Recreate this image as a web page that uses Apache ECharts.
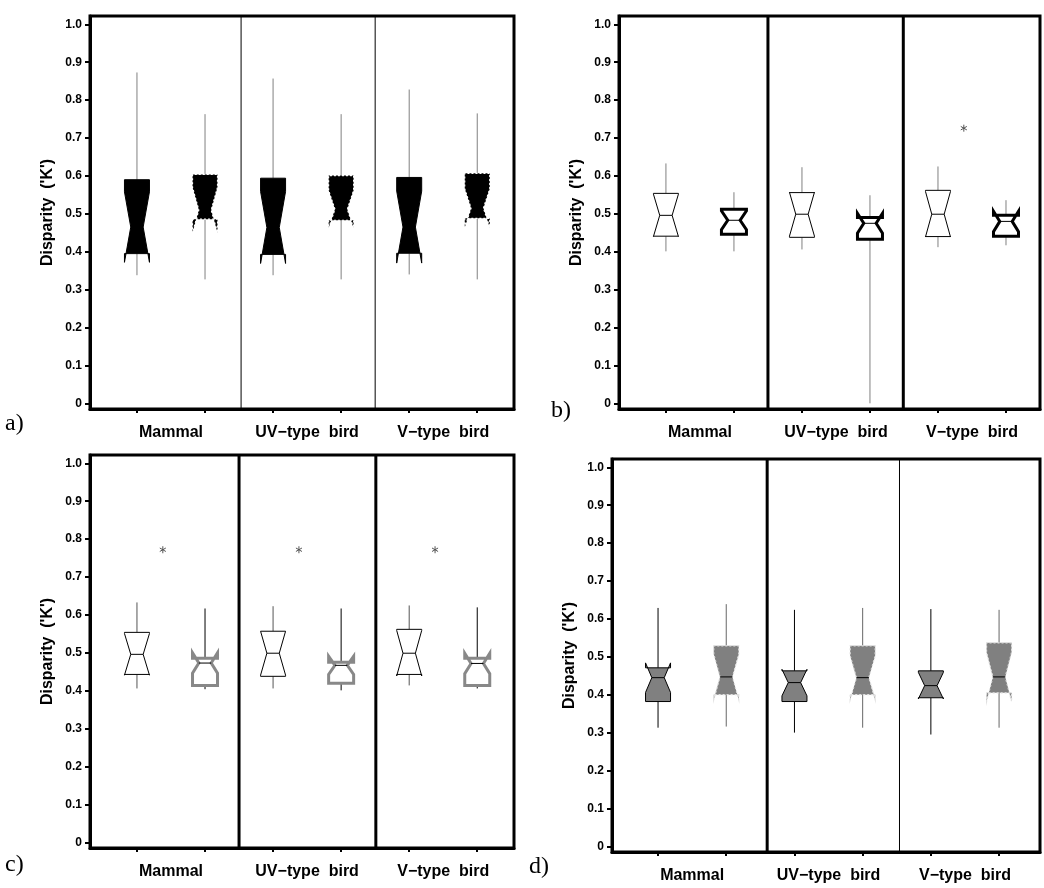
<!DOCTYPE html>
<html>
<head>
<meta charset="utf-8">
<script src="https://cdn.jsdelivr.net/npm/echarts@6/dist/echarts.min.js"></script>
<style>
  html, body { margin: 0; padding: 0; background: #fff; }
  #chart { width: 1044px; height: 888px; }
</style>
</head>
<body>
<div id="chart"></div>
<script>
// box positions along each panel, and group names under each pair
var positions = [1, 2, 3, 4, 5, 6];
var categories = ['Mammal', 'UV\u2212type  bird', 'V\u2212type  bird'];
var categoryPos = [1.5, 3.5, 5.5];
var yTicks = [0, 0.1, 0.2, 0.3, 0.4, 0.5, 0.6, 0.7, 0.8, 0.9, 1.0];
var panelNames = ['a)', 'b)', 'c)', 'd)'];

// one row per panel (a, b, c, d), six boxes per row
var whiskerLow = [
  [0.338, 0.327, 0.338, 0.327, 0.340, 0.327],
  [0.401, 0.401, 0.406, 0.000, 0.412, 0.417],
  [0.406, 0.404, 0.406, 0.401, 0.414, 0.406],
  [0.313, 0.316, 0.300, 0.313, 0.295, 0.313]
];
var q1 = [
  [0.395, 0.486, 0.393, 0.483, 0.396, 0.488],
  [0.441, 0.446, 0.438, 0.433, 0.440, 0.441],
  [0.443, 0.414, 0.438, 0.420, 0.443, 0.414],
  [0.382, 0.400, 0.382, 0.400, 0.392, 0.405]
];
var median = [
  [0.465, 0.510, 0.464, 0.512, 0.465, 0.515],
  [0.496, 0.483, 0.499, 0.475, 0.499, 0.480],
  [0.496, 0.473, 0.499, 0.467, 0.499, 0.472],
  [0.445, 0.447, 0.432, 0.445, 0.424, 0.447]
];
var q3 = [
  [0.590, 0.604, 0.594, 0.601, 0.596, 0.607],
  [0.554, 0.512, 0.556, 0.490, 0.562, 0.496],
  [0.554, 0.486, 0.557, 0.475, 0.562, 0.486],
  [0.471, 0.529, 0.463, 0.529, 0.463, 0.537]
];
var whiskerHigh = [
  [0.873, 0.763, 0.857, 0.763, 0.828, 0.765],
  [0.633, 0.557, 0.623, 0.549, 0.625, 0.536],
  [0.633, 0.617, 0.623, 0.617, 0.625, 0.620],
  [0.629, 0.639, 0.624, 0.629, 0.626, 0.624]
];
// half height of the notch around the median
var notch = [
  [0.093, 0.060, 0.095, 0.050, 0.095, 0.051],
  [0.056, 0.025, 0.058, 0.026, 0.060, 0.027],
  [0.055, 0.027, 0.058, 0.024, 0.060, 0.027],
  [0.039, 0.060, 0.035, 0.058, 0.035, 0.065]
];
// asterisk outliers [x, value]
var outliers = [
  [],
  [[5.38, 0.726]],
  [[1.38, 0.772], [3.38, 0.772], [5.38, 0.772]],
  []
];
// vertical dividers between groups
var dividers = [
  [2.53, 4.5],
  [2.5, 4.49],
  [2.5, 4.51],
  [2.6, 4.54]
];

// ---- layout / styling ----
var grids = [
  {left: 90, top: 16, width: 424, height: 393},
  {left: 619, top: 16, width: 421, height: 393},
  {left: 90, top: 455, width: 424, height: 393},
  {left: 612, top: 459, width: 428, height: 393}
];
var xRange = [[0.31, 6.54], [0.31, 6.5], [0.31, 6.54], [0.325, 6.6]];
var dividerWidth = [[1, 1], [3, 3], [3, 3], [3, 1]];
var labelPos = [[5, 412], [551, 399], [5, 853], [529, 855]];

var boxStyles = [
  [{fill: '#000', stroke: '#000', lw: 1, dash: null, whisker: '#808080', med: null},
   {fill: '#000', stroke: '#fff', lw: 1.2, dash: [2, 2], whisker: '#808080', med: null}],
  [{fill: '#fff', stroke: '#000', lw: 1, dash: null, whisker: '#808080', med: '#000'},
   {fill: '#fff', stroke: '#000', lw: 3, dash: null, whisker: '#808080', med: '#000'}],
  [{fill: '#fff', stroke: '#000', lw: 1, dash: null, whisker: '#555', med: '#000'},
   {fill: '#fff', stroke: '#888', lw: 3, dash: null, whisker: '#000', med: '#000'}],
  [{fill: '#808080', stroke: '#000', lw: 1, dash: null, whisker: '#000', med: '#000'},
   {fill: '#808080', stroke: '#e0e0e0', lw: 1.2, dash: [2, 2], whisker: '#666', med: '#000'}]
];

var FONT = '"Liberation Sans", Arial, sans-serif';
var HW = 12.5;      // half box width, px
var WAIST = 6.2;    // half width at the notch waist, px

function boxRenderer(panel) {
  return function (params, api) {
    var st = boxStyles[panel][params.dataIndex % 2];
    var x = api.value(0);
    var cx = api.coord([x, 0])[0];
    var y = function (v) { return api.coord([x, v])[1]; };
    var yLo = y(api.value(1)), yQ1 = y(api.value(2)), yMd = y(api.value(3));
    var yQ3 = y(api.value(4)), yHi = y(api.value(5));
    var nd = api.value(6);
    var yNl = y(api.value(3) - nd), yNh = y(api.value(3) + nd);
    var pts = [
      [cx - HW, yQ1], [cx - HW, yNl], [cx - WAIST, yMd], [cx - HW, yNh], [cx - HW, yQ3],
      [cx + HW, yQ3], [cx + HW, yNh], [cx + WAIST, yMd], [cx + HW, yNl], [cx + HW, yQ1]
    ];
    var children = [
      {type: 'line', shape: {x1: cx, y1: yQ3, x2: cx, y2: yHi}, style: {stroke: st.whisker, lineWidth: 1}},
      {type: 'line', shape: {x1: cx, y1: yQ1, x2: cx, y2: yLo}, style: {stroke: st.whisker, lineWidth: 1}},
      {type: 'polygon', shape: {points: pts},
        style: {fill: st.fill, stroke: st.stroke, lineWidth: st.lw, lineDash: st.dash, lineJoin: 'miter'}}
    ];
    if (st.med) {
      children.push({type: 'line', shape: {x1: cx - WAIST, y1: yMd, x2: cx + WAIST, y2: yMd},
        style: {stroke: st.med, lineWidth: 1}});
    }
    return {type: 'group', children: children};
  };
}

function dividerRenderer(panel) {
  return function (params, api) {
    var cs = params.coordSys;
    var cx = api.coord([api.value(0), 0])[0];
    return {type: 'line', shape: {x1: cx, y1: cs.y, x2: cx, y2: cs.y + cs.height},
      style: {stroke: '#000', lineWidth: dividerWidth[panel][params.dataIndex]}};
  };
}

function starRenderer(params, api) {
  var p = api.coord([api.value(0), api.value(1)]);
  var r = 3.5, s = r * 0.866, h = r * 0.5;
  var st = {stroke: '#555', lineWidth: 1};
  return {type: 'group', children: [
    {type: 'line', shape: {x1: p[0], y1: p[1] - r, x2: p[0], y2: p[1] + r}, style: st},
    {type: 'line', shape: {x1: p[0] - s, y1: p[1] - h, x2: p[0] + s, y2: p[1] + h}, style: st},
    {type: 'line', shape: {x1: p[0] - s, y1: p[1] + h, x2: p[0] + s, y2: p[1] - h}, style: st}
  ]};
}

var myChart = echarts.init(document.getElementById('chart'));

var option = {
  animation: false,
  backgroundColor: '#fff',
  grid: [], xAxis: [], yAxis: [], series: [], graphic: []
};

for (var i = 0; i < 4; i++) {
  option.grid.push({
    left: grids[i].left, top: grids[i].top, width: grids[i].width, height: grids[i].height,
    show: true, borderColor: '#000', borderWidth: 3, backgroundColor: 'transparent'
  });
  option.xAxis.push({
    type: 'value', gridIndex: i, min: xRange[i][0], max: xRange[i][1],
    splitLine: {show: false},
    axisLine: {onZero: false, lineStyle: {color: '#000', width: 3}},
    axisTick: {customValues: positions, length: 4, lineStyle: {color: '#000', width: 2}},
    axisLabel: {
      customValues: categoryPos, margin: 16, color: '#000',
      fontFamily: FONT, fontWeight: 'bold', fontSize: 16,
      formatter: function (v) { return categories[Math.round((v - 1.5) / 2)]; }
    }
  });
  option.yAxis.push({
    type: 'value', gridIndex: i, min: -0.015, max: 1.022,
    name: "Disparity  ('K')", nameLocation: 'middle', nameGap: 34,
    nameTextStyle: {color: '#000', fontFamily: FONT, fontWeight: 'bold', fontSize: 16},
    splitLine: {show: false},
    axisLine: {onZero: false, lineStyle: {color: '#000', width: 3}},
    axisTick: {customValues: yTicks, length: 5, lineStyle: {color: '#000', width: 2}},
    axisLabel: {
      customValues: yTicks, margin: 8, color: '#000',
      fontFamily: FONT, fontWeight: 'bold', fontSize: 12,
      formatter: function (v) { return v === 0 ? '0' : v.toFixed(1); }
    }
  });

  var boxes = positions.map(function (p, k) {
    return [p, whiskerLow[i][k], q1[i][k], median[i][k], q3[i][k], whiskerHigh[i][k], notch[i][k]];
  });
  option.series.push({
    type: 'custom', xAxisIndex: i, yAxisIndex: i,
    renderItem: dividerRenderer(i),
    data: dividers[i].map(function (d) { return [d, 0.5]; }),
    encode: {x: 0, y: 1}, silent: true, z: 1
  });
  option.series.push({
    type: 'custom', xAxisIndex: i, yAxisIndex: i,
    renderItem: boxRenderer(i),
    data: boxes,
    encode: {x: 0, y: [1, 2, 3, 4, 5]}, z: 2
  });
  if (outliers[i].length) {
    option.series.push({
      type: 'custom', xAxisIndex: i, yAxisIndex: i,
      renderItem: starRenderer, data: outliers[i],
      encode: {x: 0, y: 1}, z: 3
    });
  }
  option.graphic.push({
    type: 'text', left: labelPos[i][0], top: labelPos[i][1],
    style: {text: panelNames[i], fill: '#000', font: '24px "Liberation Serif", "Times New Roman", serif'}
  });
}

myChart.setOption(option);
</script>
</body>
</html>
